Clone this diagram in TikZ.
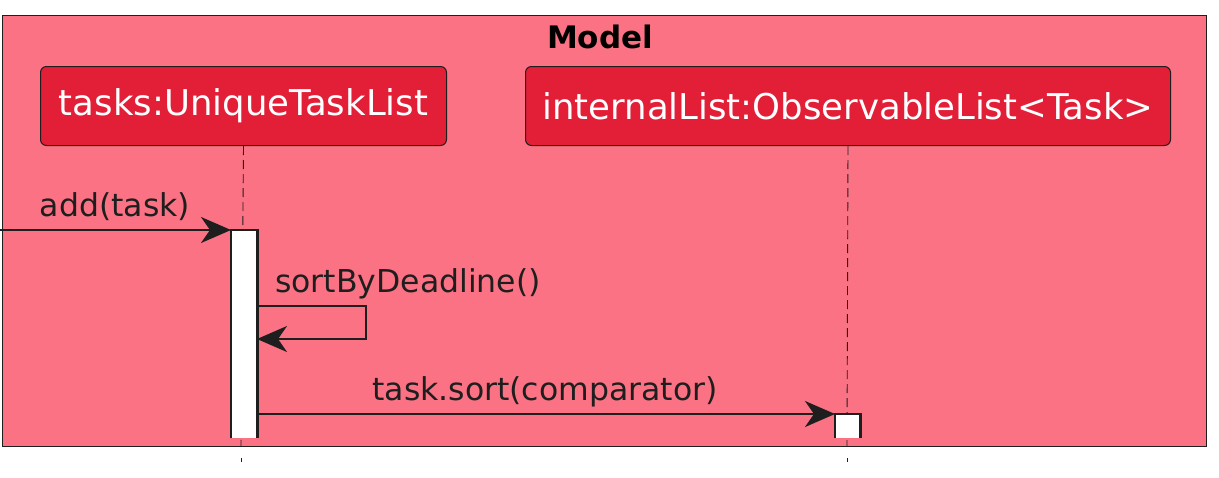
\documentclass[tikz,border=0pt]{standalone}
\usepackage{fontspec}
\setmainfont{DejaVu Sans}
\usetikzlibrary{arrows.meta}
\definecolor{framefill}{HTML}{FA7283}
\definecolor{partfill}{HTML}{E31F38}
\definecolor{ink}{HTML}{1E1E1E}
\tikzset{
  part/.style={draw=ink, line width=1pt, fill=partfill, rounded corners=6pt, text=white,
    font=\fontsize{35.5}{40}\selectfont, minimum height=79pt, inner sep=0pt, anchor=north west},
  lifeline/.style={draw=ink, line width=0.9pt, dash pattern=on 9pt off 5pt},
  msg/.style={draw=ink, line width=2pt, -{Stealth[length=30pt, width=26pt, inset=9pt]}},
  lbl/.style={font=\fontsize{31.5}{36}\selectfont, text=ink, inner sep=0pt, anchor=base},
  actbox/.style={fill=white, draw=none, inner sep=0pt, anchor=north west},
  actedge/.style={draw=ink, line width=2.2pt},
}
\begin{document}
\begin{tikzpicture}[x=1pt,y=-1pt]
\useasboundingbox (0,0) rectangle (1219,477);
% frame
\node[draw=ink, line width=1pt, fill=framefill, minimum width=1204pt, minimum height=431pt, inner sep=0pt, anchor=north west] (frame) at (2,15) {};
\node[font=\bfseries\fontsize{31}{36}\selectfont, anchor=base, inner sep=0pt] (title) at (600,48) {Model};
% participants
\node[part, minimum width=406pt] (p1) at (40,66) {tasks:UniqueTaskList};
\node[part, minimum width=645pt] (p2) at (525,66) {internalList:ObservableList<Task>};
% lifelines
\coordinate (l1bot) at (241,446);
\coordinate (l2bot) at (847,446);
\coordinate (l1e1) at (241,458);
\coordinate (l1e2) at (241,462);
\coordinate (l2e1) at (847,458);
\coordinate (l2e2) at (847,462);
\draw[lifeline] (p1.south) -- (l1bot);
\draw[lifeline] (p2.south) -- (l2bot);
\draw[draw=ink, line width=0.9pt] (l1e1) -- (l1e2);
\draw[draw=ink, line width=0.9pt] (l2e1) -- (l2e2);
% activations
\node[actbox, minimum width=26pt, minimum height=208pt] (a1) at (231,230) {};
\draw[actedge] (a1.south west) -- (a1.north west) -- (a1.north east) -- (a1.south east);
\node[actbox, minimum width=25pt, minimum height=24pt] (a2) at (835,414) {};
\draw[actedge] (a2.south west) -- (a2.north west) -- (a2.north east) -- (a2.south east);
% messages
\coordinate (src) at (0,230);
\draw[msg] (src) -- (a1.north west);
\node[lbl] (m1) at (115,216) {add(task)};
\coordinate (s1) at (257,306);
\coordinate (s2) at (366,306);
\coordinate (s3) at (366,339);
\coordinate (s4) at (257,339);
\draw[msg] (s1) -- (s2) -- (s3) -- (s4);
\node[lbl, anchor=base west] (m2) at (275,292) {sortByDeadline()};
\coordinate (t1) at (257,414);
\draw[msg] (t1) -- (a2.north west);
\node[lbl] (m3) at (545,400) {task.sort(comparator)};
\end{tikzpicture}
\end{document}
